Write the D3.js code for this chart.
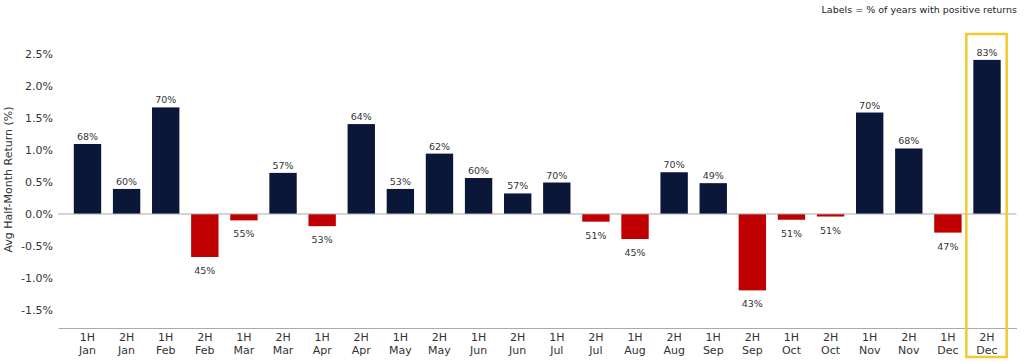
<!DOCTYPE html>
<html>
<head>
<meta charset="utf-8">
<script src="https://cdn.jsdelivr.net/npm/d3@7"></script>
<style>
  body { margin: 0; background: #fff; }
  svg { display: block; font-family: "DejaVu Sans", sans-serif; }
</style>
</head>
<body>
<div id="chart"></div>
<script>
// half-month periods
var halves = ["1H","2H","1H","2H","1H","2H","1H","2H","1H","2H","1H","2H","1H","2H","1H","2H","1H","2H","1H","2H","1H","2H","1H","2H"];
var months = ["Jan","Jan","Feb","Feb","Mar","Mar","Apr","Apr","May","May","Jun","Jun","Jul","Jul","Aug","Aug","Sep","Sep","Oct","Oct","Nov","Nov","Dec","Dec"];
// avg half-month return (%)
var returns = [1.09,0.39,1.66,-0.67,-0.10,0.64,-0.19,1.40,0.39,0.94,0.56,0.32,0.49,-0.12,-0.39,0.65,0.48,-1.19,-0.09,-0.04,1.58,1.02,-0.29,2.40];
// % of years with positive returns
var posYears = [68,60,70,45,55,57,53,64,53,62,60,57,70,51,45,70,49,43,51,51,70,68,47,83];
var yTicks = [-1.5,-1.0,-0.5,0.0,0.5,1.0,1.5,2.0,2.5];
var highlight = 23;

var W = 1024, H = 362;
var mLeft = 58, mRight = 1016.5, mTop = 31, mBottom = 328;

var svg = d3.select("#chart").append("svg")
  .attr("width", W)
  .attr("height", H);

var keys = d3.range(returns.length);

var x = d3.scaleBand()
  .domain(keys)
  .range([mLeft, mRight])
  .paddingInner(0.3)
  .paddingOuter(0.404);

var y = d3.scaleLinear()
  .domain([-1.776, 2.85])
  .range([mBottom, mTop]);

// y axis labels
var yAxis = svg.append("g")
  .attr("transform", "translate(" + mLeft + ",0)")
  .call(d3.axisLeft(y).tickValues(yTicks).tickSize(0).tickPadding(5)
    .tickFormat(function(d) { return d.toFixed(1) + "%"; }));
yAxis.select(".domain").remove();
yAxis.selectAll(".tick text")
  .attr("font-size", 11)
  .attr("font-family", "DejaVu Sans, sans-serif")
  .attr("fill", "#333");

svg.append("text")
  .attr("transform", "translate(12," + ((mTop + mBottom) / 2) + ") rotate(-90)")
  .attr("text-anchor", "middle")
  .attr("font-size", 11)
  .attr("fill", "#333")
  .text("Avg Half-Month Return (%)");

// bars
svg.selectAll("rect.bar")
  .data(keys)
  .enter().append("rect")
  .attr("class", "bar")
  .attr("x", function(i) { return x(i); })
  .attr("width", x.bandwidth())
  .attr("y", function(i) { return y(Math.max(0, returns[i])); })
  .attr("height", function(i) { return Math.abs(y(returns[i]) - y(0)); })
  .attr("fill", function(i) { return returns[i] >= 0 ? "#0b1739" : "#c00000"; });

// zero line + bottom axis line
svg.append("line")
  .attr("x1", mLeft).attr("x2", mRight)
  .attr("y1", y(0)).attr("y2", y(0))
  .attr("stroke", "#aaa").attr("stroke-width", 1);

var xAxis = svg.append("g")
  .attr("transform", "translate(0," + mBottom + ")")
  .call(d3.axisBottom(x).tickSize(0).tickFormat(""));
xAxis.select(".domain").attr("stroke", "#aaa");

var xl = svg.append("g").selectAll("text.xl")
  .data(keys)
  .enter().append("text")
  .attr("class", "xl")
  .attr("text-anchor", "middle")
  .attr("font-size", 11)
  .attr("fill", "#333")
  .attr("x", function(i) { return x(i) + x.bandwidth() / 2; });
xl.append("tspan")
  .attr("x", function(i) { return x(i) + x.bandwidth() / 2; })
  .attr("y", mBottom + 13)
  .text(function(i) { return halves[i]; });
xl.append("tspan")
  .attr("x", function(i) { return x(i) + x.bandwidth() / 2; })
  .attr("y", mBottom + 26)
  .text(function(i) { return months[i]; });

// value labels
svg.selectAll("text.val")
  .data(keys)
  .enter().append("text")
  .attr("class", "val")
  .attr("text-anchor", "middle")
  .attr("font-size", 9.5)
  .attr("fill", "#333")
  .attr("x", function(i) { return x(i) + x.bandwidth() / 2; })
  .attr("y", function(i) { return returns[i] >= 0 ? y(returns[i]) - 4 : y(returns[i]) + 17; })
  .text(function(i) { return posYears[i] + "%"; });

// highlight box
svg.append("rect")
  .attr("x", x(highlight) - 7)
  .attr("y", 34)
  .attr("width", x.bandwidth() + 13)
  .attr("height", 323)
  .attr("fill", "none")
  .attr("stroke", "#f2c92e")
  .attr("stroke-width", 2.5);

svg.append("text")
  .attr("x", 1017)
  .attr("y", 13)
  .attr("text-anchor", "end")
  .attr("font-size", 9.5)
  .attr("fill", "#222")
  .text("Labels = % of years with positive returns");
</script>
</body>
</html>
